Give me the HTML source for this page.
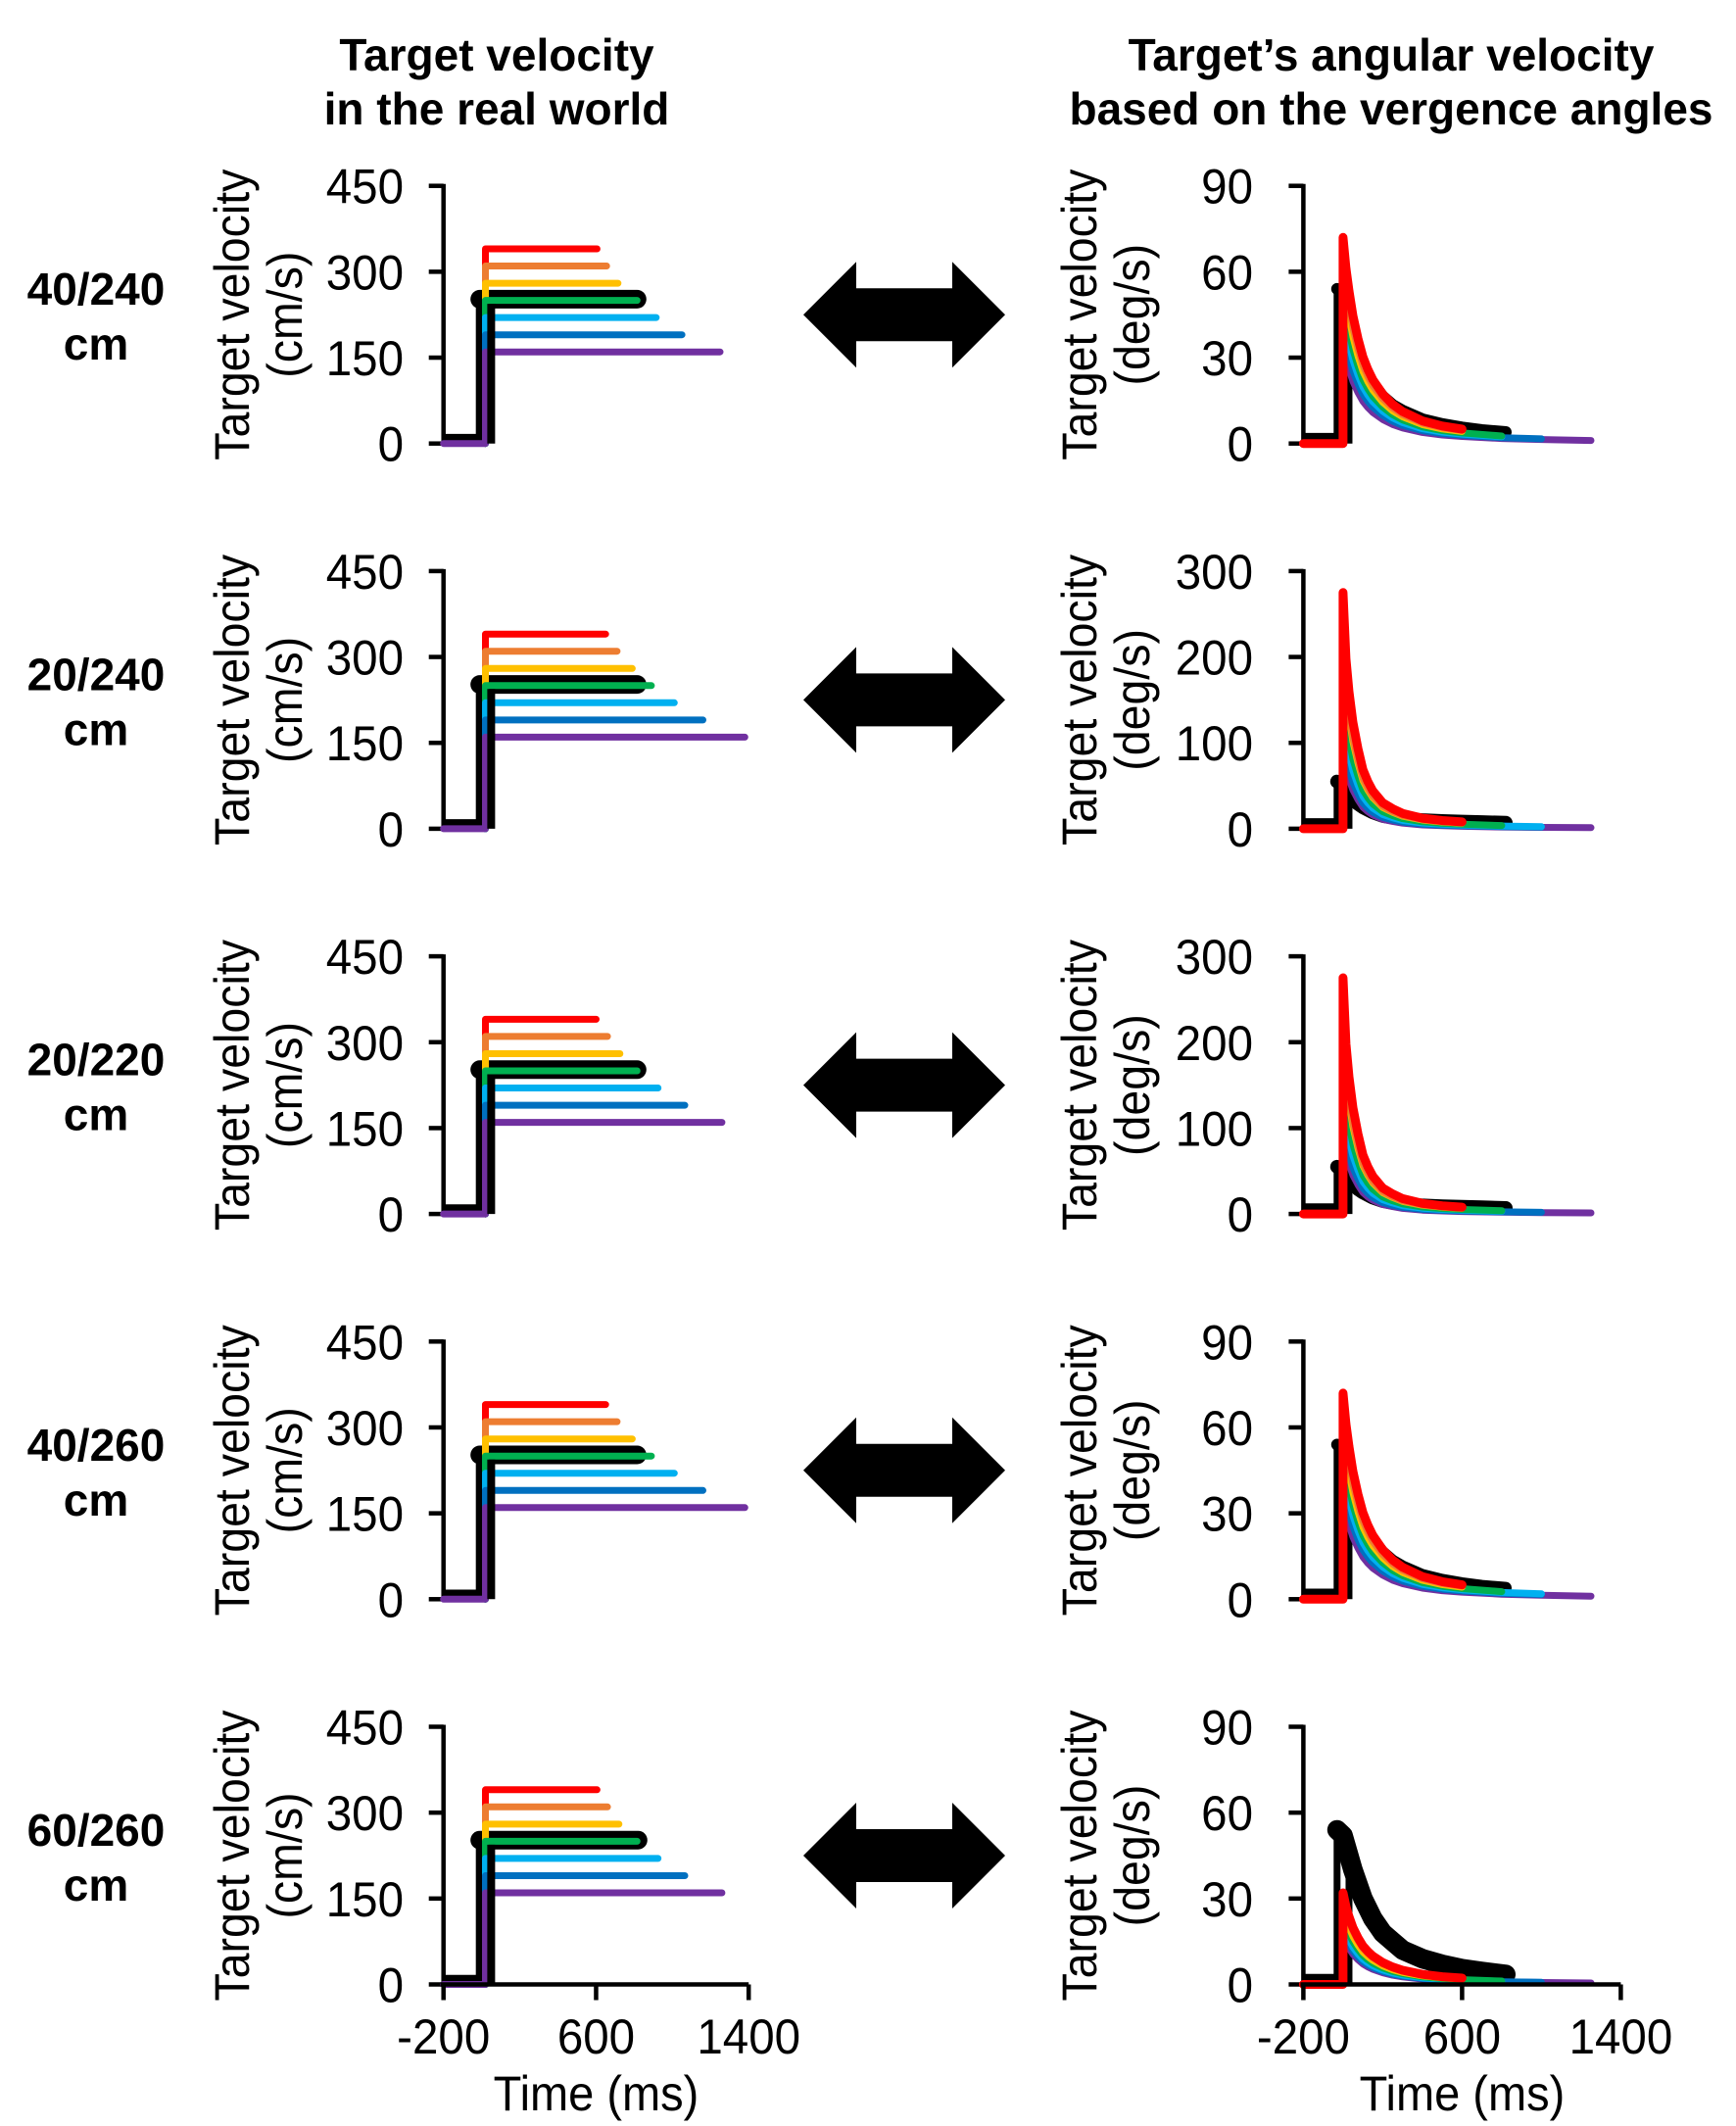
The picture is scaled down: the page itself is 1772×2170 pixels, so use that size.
<!DOCTYPE html>
<html><head><meta charset="utf-8"><style>
html,body{margin:0;padding:0;background:#fff}
svg{display:block}
text{font-family:"Liberation Sans",Arial,sans-serif;fill:#000}
</style></head><body>
<svg id="fig" width="1772" height="2170" viewBox="0 0 1772 2170" xmlns="http://www.w3.org/2000/svg">
<text x="507" y="72" font-size="46" font-weight="bold" text-anchor="middle">Target velocity</text>
<text x="507" y="127" font-size="46" font-weight="bold" text-anchor="middle">in the real world</text>
<text x="1420" y="72" font-size="46" font-weight="bold" text-anchor="middle">Target’s angular velocity</text>
<text x="1420" y="127" font-size="46" font-weight="bold" text-anchor="middle">based on the vergence angles</text>
</svg>
<script>
// ---- data ----
const rowLabels = ["40/240","20/240","20/220","40/260","60/260"];
const colorNames = ["red","orange","yellow","green","cyan","blue","purple"];
const leftLevels = [340,310,280,250,220,190,160];
const blackLevel = 252;
const leftEnds = [
  [605,655,715,815,915,1050,1250],
  [650,710,790,890,1010,1160,1380],
  [600,660,725,815,925,1065,1260],
  [650,710,790,890,1010,1160,1380],
  [605,660,720,815,925,1065,1260]
];
const blackEnds = [815,815,815,815,820];
const leftTicks = [0,150,300,450];
const rightMax = [90,300,300,90,90];
const rightTicks = [[0,30,60,90],[0,100,200,300],[0,100,200,300],[0,30,60,90],[0,30,60,90]];
const rightPeaks = [
  [72,65,60,53,47,41,35],
  [275,235,225,180,150,120,100],
  [275,235,225,180,150,120,100],
  [72,65,60,53,47,41,35],
  [32,30,27,24,21,19,17]
];
const decayTimes = [0,15,30,50,75,100,125,150,200,250,300,400,500,600,800,1000,1250,1400];
const decayNear = [1,0.85,0.74,0.62,0.51,0.42,0.36,0.31,0.24,0.19,0.155,0.11,0.085,0.07,0.05,0.04,0.03,0.027];
const decayClose = [1,0.72,0.58,0.45,0.34,0.25,0.2,0.16,0.11,0.085,0.065,0.045,0.035,0.029,0.021,0.016,0.012,0.011];
const rowDecay = [decayNear,decayClose,decayClose,decayNear,decayNear];
const blackTimes = [-30,0,25,50,75,100,150,200,250,300,400,500,600,700,820];
const blackVals = [
  [54,52,44,37,31,27,21,16.5,13.5,11.5,8.5,6.8,5.6,4.7,4],
  [55,50,42,35,29,25,19,15,13,11.5,10,9,8.3,7.7,7],
  [55,50,42,35,29,25,19,15,13,11.5,10,9,8.3,7.7,7],
  [54,52,44,37,31,27,21,16.5,13.5,11.5,8.5,6.8,5.6,4.7,4],
  [54,52,46,40,35,30,23,18,15,12,9,7,5.5,4.5,3.5]
];
const blackWidth = [12,14,14,12,20];
const xTicks = [-200,600,1400];
const colors = ["#FF0000","#ED7D31","#FFC000","#00B050","#00B0F0","#0070C0","#7030A0"];

// ---- layout ----
const NS="http://www.w3.org/2000/svg";
const svg=document.getElementById('fig');
const rowTop0=189.7, rowStep=393.2, plotH=263;
const LX0=452.7, LX1=764.2, RX0=1330.4, RX1=1654.4;
function lx(t){return LX0+(t+200)/1600*(LX1-LX0);}
function rx(t){return RX0+(t+200)/1600*(RX1-RX0);}
function mk(tag,attrs,parent){const e=document.createElementNS(NS,tag);for(const k in attrs)e.setAttribute(k,attrs[k]);(parent||svg).appendChild(e);return e;}
function txt(str,x,y,size,anchor,name,parent,rot,sx){
  const e=mk('text',{'font-size':size,'text-anchor':anchor},parent);
  e.setAttribute('transform','translate('+x+','+y+')'+(rot?' rotate('+rot+')':'')+' scale('+(sx||0.93)+',1)');
  e.textContent=str;
  
  
  return e;
}
function pathD(pts){return pts.map((p,i)=>(i?'L':'M')+p[0].toFixed(1)+','+p[1].toFixed(1)).join(' ');}

for(let r=0;r<5;r++){
  const top=rowTop0+r*rowStep, bot=top+plotH, mid=(top+bot)/2;
  const g=mk('g',{});
  
  
  const rl=mk('text',{x:98,y:mid-10,'font-size':46,'font-weight':'bold','text-anchor':'middle'},g);
  rl.textContent=rowLabels[r];
  
  
  const rc=mk('text',{x:98,y:mid+46,'font-size':46,'font-weight':'bold','text-anchor':'middle'},g);
  rc.textContent='cm';
  
  

  // ---- left chart ----
  const L=mk('g',{},g);
  
  
  const ly=v=>bot-v/450*plotH;
  txt('Target velocity',254,mid,50,'middle','y-axis-title',L,-90);
  txt('(cm/s)',308,mid,50,'middle','y-axis-unit',L,-90);
  leftTicks.forEach(v=>{
    txt(String(v),412,ly(v)+18,50,'end','y-tick-label',L,0,0.95);
    const tk=mk('line',{x1:LX0-15,x2:LX0,y1:ly(v),y2:ly(v),stroke:'#000','stroke-width':4.5},L);
    
  });
  const ax=mk('line',{x1:LX0,x2:LX0,y1:top-2,y2:bot+2,stroke:'#000','stroke-width':4.5},L);
  
  const bk=mk('path',{d:pathD([[lx(-10),ly(blackLevel)],[lx(blackEnds[r]),ly(blackLevel)]]),stroke:'#000','stroke-width':19,fill:'none','stroke-linecap':'round'},L);
  
  const bk2=mk('path',{d:pathD([[lx(-200),ly(10)],[lx(-10),ly(10)],[lx(-10),ly(blackLevel)]]),stroke:'#000','stroke-width':8,fill:'none'},L);
  
  for(let c=0;c<7;c++){
    const pts=c===6?[[lx(-200),ly(0)],[lx(20),ly(0)],[lx(20),ly(leftLevels[c])],[lx(leftEnds[r][c]),ly(leftLevels[c])]]
                   :[[lx(20),ly(0)],[lx(20),ly(leftLevels[c])],[lx(leftEnds[r][c]),ly(leftLevels[c])]];
    const p=mk('path',{d:pathD(pts),stroke:colors[c],'stroke-width':7,fill:'none','stroke-linecap':'round','stroke-linejoin':'round'},L);
    
  }
  const bk3=mk('line',{x1:lx(50),x2:lx(50),y1:ly(0),y2:ly(blackLevel-8),stroke:'#000','stroke-width':8},L);
  

  // ---- arrow ----
  const cx=923, cy=mid;
  const ap=[[-103,0],[-49,-54],[-49,-27],[49,-27],[49,-54],[103,0],[49,54],[49,27],[-49,27],[-49,54]];
  const ar=mk('polygon',{points:ap.map(p=>(cx+p[0])+','+(cy+p[1])).join(' '),fill:'#000'},g);
  
  

  // ---- right chart ----
  const R=mk('g',{},g);
  
  
  const ry=v=>bot-v/rightMax[r]*plotH;
  txt('Target velocity',1119,mid,50,'middle','y-axis-title',R,-90);
  txt('(deg/s)',1173,mid,50,'middle','y-axis-unit',R,-90);
  rightTicks[r].forEach(v=>{
    txt(String(v),1279,ry(v)+18,50,'end','y-tick-label',R,0,0.95);
    const tk=mk('line',{x1:RX0-15,x2:RX0,y1:ry(v),y2:ry(v),stroke:'#000','stroke-width':4.5},R);
    
  });
  const ax2=mk('line',{x1:RX0,x2:RX0,y1:top-2,y2:bot+2,stroke:'#000','stroke-width':4.5},R);
  
  const base=2.5*rightMax[r]/90;
  const bo=mk('path',{d:pathD([[rx(-200),ry(base)],[rx(-30),ry(base)],[rx(-30),ry(blackVals[r][0])]]),stroke:'#000','stroke-width':7,fill:'none'},R);
  
  const bpts=[];
  blackTimes.forEach((t,i)=>bpts.push([rx(t),ry(blackVals[r][i])]));
  const bc=mk('path',{d:pathD(bpts),stroke:'#000','stroke-width':blackWidth[r],fill:'none','stroke-linecap':'round','stroke-linejoin':'round'},R);
  
  const bv=mk('line',{x1:rx(30),x2:rx(30),y1:ry(0),y2:ry(blackVals[r][2]),stroke:'#000','stroke-width':7},R);
  
  for(let c=6;c>=0;c--){
    const pts=[];
    if(c===0){pts.push([rx(-200),ry(0)]);pts.push([rx(0),ry(0)]);}
    const end=leftEnds[r][c];
    for(let i=0;i<decayTimes.length;i++){
      const t=decayTimes[i];
      if(t>end)break;
      pts.push([rx(t),ry(rightPeaks[r][c]*rowDecay[r][i])]);
    }
    const p=mk('path',{d:pathD(pts),stroke:colors[c],'stroke-width':c===0?9:7,fill:'none','stroke-linecap':'round','stroke-linejoin':'round'},R);
    
  }

  if(r===4){
    [[LX0,lx,'left'],[RX0,rx,'right']].forEach(([x0,fx,side])=>{
      const xa=mk('line',{x1:x0-3,x2:fx(1400),y1:bot,y2:bot,stroke:'#000','stroke-width':4.5},g);
      
      xTicks.forEach(t=>{
        const tk=mk('line',{x1:fx(t),x2:fx(t),y1:bot,y2:bot+16,stroke:'#000','stroke-width':4.5},g);
        
        txt(String(t),fx(t),2096,50,'middle','x-tick-label',g,0,0.95);
      });
      txt('Time (ms)',(fx(-200)+fx(1400))/2,2154,50,'middle','x-axis-title',g,0,0.94);
    });
  }
}
</script>
</body></html>
